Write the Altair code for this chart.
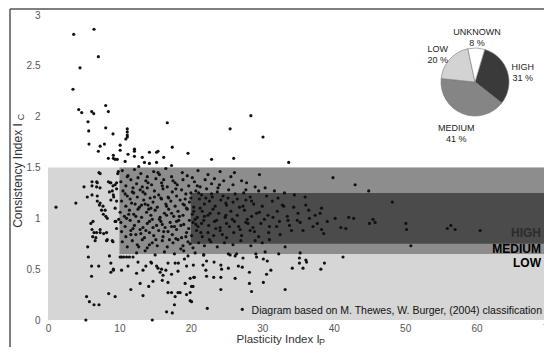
import math
import altair as alt
import pandas as pd

# ---------------- data ----------------
# classification zones (M. Thewes, W. Burger 2004)
zone_names = ["LOW", "MEDIUM", "HIGH"]
zone_ip_from = [0, 10, 20]
zone_ip_to = [70, 70, 70]
zone_ic_from = [0, 0.65, 0.75]
zone_ic_to = [1.5, 1.5, 1.25]
zone_colors = ["#d6d6d6", "#8d8d8d", "#4b4b4b"]

# zone labels (right side)
zone_label_text = ["HIGH", "MEDIUM", "LOW"]
zone_label_ic = [0.86, 0.70, 0.56]

# inset pie: share of samples per clogging class
pie_cats = ["HIGH", "MEDIUM", "LOW", "UNKNOWN"]
pie_pct = [31, 41, 20, 8]
pie_colors = ["#3a3a3a", "#858585", "#d3d3d3", "#ffffff"]

# samples (Ip, Ic)
pts_upper = [(3.6,2.81),(6.44,2.86),(7.05,2.59),(4.48,2.48),(3.5,2.27),(4.3,2.07),(4.72,2.04),(6.12,2.05),
    (6.4,2.03),(8.08,2.11),(8.45,2.05),(5.6,1.95),(5.7,1.86),(8.08,1.89),(9.1,1.83),(11.1,1.88),(11.1,1.85),
    (11.1,1.82),(11.1,1.80),(10.9,1.78),(16.7,1.94),(5.74,1.73),(7.3,1.71),(7.9,1.73),(7.05,1.66),(10.1,1.72),
    (10.1,1.67),(12.1,1.68),(12.1,1.66),(17.4,1.70),(19.6,1.64),(8.45,1.59),(9.15,1.62),(9.15,1.59),(9.4,1.58),
    (9.7,1.58),(10.8,1.56),(11.2,1.63),(12.1,1.61),(13.2,1.60),(13.5,1.55),(14.2,1.65),(14.2,1.54),(15.2,1.65),
    (15.4,1.66),(15.2,1.55),(16.2,1.60),(17.3,1.52),(12.7,1.51),(28.4,2.01),(25.5,1.88),(30.1,1.80),(22.9,1.58),
    (26.0,1.59),(33.7,1.55)]

pts_left = [(1.12,1.11),(3.9,1.15),(7.14,1.45),(7.3,1.44),(5.04,1.31),(5.5,1.21),(6.16,1.36),(6.82,1.36),
    (6.16,1.32),(6.16,1.23),(7.28,1.30),(6.9,1.35),(6.8,1.31),(6.9,1.22),(7.2,1.13),(7.5,1.08),(7.75,1.04),
    (8.1,1.02),(8.3,1.0),(6.9,1.17),(7.3,1.15),(7.7,1.12),(8.0,1.08),(6.0,0.95),(6.16,0.89),(6.44,0.86),
    (6.8,0.86),(7.3,0.86),(6.7,0.81),(6.6,0.78),(6.3,0.97),(6.26,0.82),(7.3,0.89),(7.8,0.85),(8.3,0.79),
    (9.1,0.77),(5.56,0.72),(5.65,0.62),(6.1,0.53),(7.1,0.53),(6.1,0.43),(5.4,0.23),(5.8,0.18),(6.44,0.15),
    (7.14,0.15),(5.3,0.0),(8.2,0.86),(8.2,0.78),(8.8,0.56),(9.15,0.49),(8.5,0.26),(9.4,0.23),(8.7,1.35),
    (9.4,1.33),(9.0,1.27),(9.6,1.29),(9.2,1.21),(8.8,1.18),(8.45,1.36),(8.8,1.35),(9.6,1.35),(9.1,1.32),
    (8.6,1.26),(9.15,1.23),(9.6,1.17),(9.4,1.10),(9.4,0.97),(9.9,0.99),(9.5,0.97),(9.6,0.90),(9.0,0.78),
    (9.85,1.46),(9.76,1.44),(8.8,0.47),(9.15,0.50),(8.6,0.63)]

pts_low = [(11.2,0.53),(10.3,0.49),(12.4,0.46),(13.3,0.49),(11.6,0.30),(12.9,0.36),(13.3,0.24),(14.1,0.33),
    (14.7,0.38),(14.6,0.0),(15.2,0.53),(15.9,0.50),(16.1,0.44),(16.6,0.08),(17.4,0.07),(16.8,0.27),(17.8,0.23),
    (18.5,0.27),(17.7,0.15),(19.2,0.36),(19.4,0.25),(20.3,0.33),(20.5,0.42),(18.25,0.56),(19.4,0.53),(19.9,0.19),
    (12.6,0.57),(13.7,0.53),(14.4,0.57),(14.5,0.56),(15.4,0.51),(16.8,0.56),(15.7,0.47),(16.5,0.49),(16.0,0.39),
    (16.8,0.37),(17.3,0.45),(18.2,0.48),(17.8,0.56),(19.1,0.60),(19.6,0.63),(19.9,0.41),(17.3,0.27),(18.2,0.27),
    (19.9,0.27),(20.1,0.18),(20.35,0.54),(20.4,0.42),(20.1,0.33),(22.3,0.115),(27.2,0.105),(24.2,0.30),
    (21.8,0.64),(21.7,0.54),(22.2,0.58),(22.1,0.49),(22.2,0.43),(23.25,0.57),(23.2,0.42),(24.2,0.54),
    (24.3,0.50),(24.2,0.42),(25.25,0.51),(26.2,0.41),(26.65,0.53),(27.2,0.52),(27.3,0.61),(28.2,0.47),
    (28.2,0.36),(28.5,0.28),(30.15,0.37),(30.6,0.45),(31.2,0.49),(30.15,0.60),(30.7,0.58),(33.2,0.30),
    (34.2,0.51),(35.2,0.61),(35.2,0.56),(35.7,0.51),(36.1,0.59),(36.2,0.57),(38.2,0.50),(38.7,0.56)]

pts_dense = [
    (10.4,1.47),(11.2,1.42),(12.1,1.48),(13.0,1.44),(13.9,1.41),(14.8,1.46),(15.6,1.43),(16.5,1.49),(17.3,1.41),
    (18.8,1.45),(19.5,1.42),(21.0,1.47),(22.4,1.43),(24.1,1.46),(25.6,1.41),(27.1,1.37),(29.6,1.43),(39.9,1.40),
    (12.6,1.40),(20.2,1.40),
    (10.2,1.36),(10.9,1.32),(11.6,1.38),(12.4,1.34),(13.2,1.31),(13.7,1.37),(14.5,1.33),(15.1,1.39),(15.9,1.35),
    (16.7,1.31),(17.5,1.37),(18.1,1.33),(18.9,1.38),(19.7,1.32),(20.5,1.36),(21.3,1.31),(22.0,1.38),(22.9,1.34),
    (23.8,1.30),(24.6,1.37),(25.9,1.33),(27.8,1.35),(29.0,1.31),(31.7,1.27),(33.1,1.25),(43.0,1.33),(44.9,1.27),
    (11.9,1.30),(14.0,1.35),(16.2,1.38),
    (10.5,1.27),(11.1,1.22),(11.8,1.26),(12.5,1.21),(12.9,1.28),(13.6,1.24),(14.3,1.20),(14.9,1.27),(15.5,1.23),
    (16.1,1.29),(16.8,1.21),(17.4,1.26),(18.0,1.22),(18.7,1.28),(19.3,1.24),(20.0,1.20),(20.7,1.27),(21.5,1.23),
    (22.2,1.29),(23.0,1.21),(23.7,1.26),(24.5,1.22),(25.3,1.28),(26.2,1.24),(27.4,1.25),(28.3,1.21),(29.5,1.27),
    (30.6,1.22),(32.2,1.20),(34.5,1.23),(36.0,1.21),(10.8,1.24),(13.3,1.26),(15.8,1.20),(17.9,1.29),(21.1,1.25),
    (10.3,1.17),(10.9,1.12),(11.5,1.19),(12.2,1.14),(12.8,1.11),(13.4,1.18),(14.0,1.13),(14.7,1.16),(15.3,1.11),
    (15.9,1.19),(16.5,1.14),(17.2,1.17),(17.8,1.12),(18.5,1.18),(19.1,1.13),(19.8,1.16),(20.4,1.11),(21.2,1.19),
    (21.9,1.14),(22.6,1.17),(23.4,1.12),(24.2,1.18),(25.0,1.13),(25.9,1.16),(26.8,1.11),(27.7,1.18),(28.8,1.14),
    (30.0,1.12),(31.4,1.17),(32.8,1.13),(34.4,1.11),(36.5,1.08),(38.3,1.10),(48.2,1.16),(11.7,1.15),(14.4,1.10),
    (16.9,1.20),(19.4,1.10),
    (10.1,1.06),(10.7,1.02),(11.4,1.08),(12.0,1.04),(12.6,1.09),(13.1,1.01),(13.8,1.06),(14.4,1.03),(15.0,1.08),
    (15.7,1.01),(16.3,1.05),(16.9,1.09),(17.6,1.02),(18.2,1.07),(18.9,1.03),(19.5,1.09),(20.2,1.04),(20.9,1.01),
    (21.6,1.07),(22.4,1.03),(23.1,1.09),(23.9,1.05),(24.8,1.01),(25.6,1.07),(26.5,1.03),(27.5,1.08),(28.5,1.02),
    (29.6,1.06),(30.8,1.03),(32.1,1.07),(33.5,1.02),(35.0,1.05),(36.6,1.00),(38.1,1.05),(40.2,1.00),(42.1,1.01),
    (42.8,1.00),(11.0,1.00),(14.1,1.09),(17.3,1.05),(21.3,1.10),
    (10.2,0.96),(10.8,0.92),(11.5,0.98),(12.1,0.93),(12.7,0.97),(13.3,0.91),(13.9,0.95),(14.6,0.99),(15.2,0.93),
    (15.8,0.97),(16.4,0.91),(17.1,0.96),(17.7,0.92),(18.3,0.98),(19.0,0.94),(19.7,0.90),(20.3,0.96),(21.0,0.92),
    (21.8,0.98),(22.5,0.93),(23.3,0.97),(24.1,0.91),(25.0,0.95),(25.8,0.99),(26.7,0.92),(27.7,0.96),(28.7,0.91),
    (29.8,0.95),(31.0,0.92),(32.4,0.97),(33.8,0.93),(35.3,0.96),(37.1,0.92),(37.7,0.95),(41.0,0.91),(41.7,0.90),
    (45.0,0.95),(45.5,0.99),(45.8,0.96),(50.1,0.95),(56.4,0.93),(11.9,0.90),(16.0,0.94),(20.6,0.99),
    (10.3,0.87),(10.9,0.82),(11.6,0.88),(12.3,0.84),(12.9,0.89),(13.5,0.81),(14.2,0.86),(14.8,0.83),(15.5,0.88),
    (16.1,0.82),(16.8,0.87),(17.4,0.84),(18.0,0.89),(18.7,0.81),(19.4,0.86),(20.1,0.83),(20.8,0.88),(21.6,0.82),
    (22.4,0.86),(23.2,0.83),(24.1,0.88),(25.0,0.81),(26.0,0.86),(27.1,0.83),(28.3,0.88),(29.5,0.82),(30.9,0.86),
    (32.5,0.84),(34.1,0.88),(38.3,0.89),(38.6,0.85),(50.2,0.89),(55.9,0.90),(57.0,0.89),(60.5,0.88),(13.0,0.85),
    (17.9,0.80),
    (10.4,0.77),(11.1,0.72),(11.8,0.78),(12.5,0.74),(13.2,0.79),(13.9,0.71),(14.6,0.76),(15.3,0.73),(16.0,0.78),
    (16.7,0.72),(17.5,0.76),(18.2,0.79),(18.9,0.73),(19.6,0.77),(20.3,0.71),(21.1,0.76),(21.9,0.73),(22.8,0.77),
    (23.7,0.72),(24.7,0.76),(25.9,0.74),(27.0,0.78),(28.4,0.73),(30.0,0.76),(33.2,0.72),(50.8,0.73),(14.2,0.74),
    (19.9,0.75),
    (10.1,0.62),(10.3,0.62),(10.6,0.62),(11.0,0.62),(11.4,0.62),(11.9,0.62),(12.4,0.66),(13.6,0.68),(15.0,0.64),
    (16.3,0.67),(17.7,0.65),(19.0,0.68),(20.6,0.66),(21.8,0.64),(25.25,0.65),(25.5,0.64),(26.2,0.63),(26.4,0.65),
    (29.1,0.65),(29.2,0.62),(30.4,0.67),(32.3,0.65),(35.3,0.66),(41.3,0.62)]

pts_core = [(12.3,1.02),(13.7,0.88),(14.9,1.21),(15.6,0.99),(16.6,1.12),(17.0,0.79),(18.4,1.02),(18.6,0.93),
    (19.2,1.19),(20.7,0.94),(21.4,0.86),(22.7,1.05),(23.6,0.98),(24.4,0.84),(24.9,1.15),(26.1,0.97),(27.3,1.12),
    (28.0,0.95),(29.2,1.05),(30.3,0.99),(11.3,1.04),(12.0,1.25),(13.6,1.14),(14.2,0.97),(15.1,0.79),(16.2,0.87),
    (17.8,1.35),(18.9,1.14),(19.8,0.98),(20.9,1.32),(22.1,1.20),(23.5,0.90),(24.0,1.33),(25.4,0.92),(26.5,1.19),
    (27.9,0.99),(29.0,0.78),(31.5,1.01),(33.0,1.12),(34.9,0.98),(11.6,0.84),(12.7,0.72),(13.9,1.30),(15.4,1.45),
    (16.6,1.03),(17.3,0.92),(18.6,0.70),(20.0,1.25),(21.5,0.95),(22.9,1.24),(23.3,1.39),(24.9,1.03),(26.1,1.45),
    (27.7,1.28),(28.9,0.87),(30.4,1.30),(32.0,0.92),(36.1,1.13),(37.4,1.03),(39.1,0.97),(11.1,1.41),(13.1,1.13),
    (14.7,0.91),(16.0,1.32),(18.0,0.97),(19.3,0.82),(20.4,1.07),(21.9,1.02),(22.6,0.79),(25.2,1.20),(26.9,0.89),
    (28.5,1.17),(31.0,0.79),(33.6,0.98),(35.7,0.88)]

# ---------------- frames ----------------
zones = pd.DataFrame({"zone": zone_names, "ip0": zone_ip_from, "ip1": zone_ip_to,
                      "ic0": zone_ic_from, "ic1": zone_ic_to})
all_pts = pts_upper + pts_left + pts_low + pts_dense + pts_core
samples = pd.DataFrame(all_pts, columns=["ip", "ic"])
zlabels = pd.DataFrame({"t": zone_label_text, "ic": zone_label_ic, "ip": [70] * len(zone_label_text)})
pie = pd.DataFrame({"cat": pie_cats, "pct": pie_pct, "ord": list(range(len(pie_cats)))})
pie["label"] = pie["cat"] + "\n" + pie["pct"].astype(str) + " %"

FONT = "Liberation Sans"
xscale = alt.Scale(domain=[0, 70], nice=False, zero=False)
yscale = alt.Scale(domain=[0, 3], nice=False)

x_axis = alt.Axis(title="Plasticity Index I", values=[0, 10, 20, 30, 40, 50, 60, 70], grid=False,
                  domain=False, ticks=False, labelFontSize=10, labelColor="#555", labelPadding=3,
                  labelFlush=False, titleFontSize=11.5, titleFontWeight="normal", titleColor="#333",
                  titleX=188, titleY=22, titleAnchor="start", titleAlign="left", titleBaseline="alphabetic")
y_axis = alt.Axis(title="Consistency Index I", values=[0, 0.5, 1, 1.5, 2, 2.5, 3], format="~g", grid=False,
                  domain=False, ticks=False, labelFontSize=10, labelColor="#555", labelPadding=8,
                  labelFlush=False, titleFontSize=12, titleFontWeight="normal", titleColor="#333",
                  titleX=-27, titleY=160, titleBaseline="alphabetic")

rects = alt.Chart(zones).mark_rect().encode(
    x=alt.X("ip0:Q", scale=xscale, axis=x_axis),
    x2="ip1:Q",
    y=alt.Y("ic0:Q", scale=yscale, axis=y_axis),
    y2="ic1:Q",
    color=alt.Color("zone:N", scale=alt.Scale(domain=zone_names, range=zone_colors), legend=None),
)

points = alt.Chart(samples).mark_circle(size=10, color="#111", opacity=1).encode(
    x=alt.X("ip:Q", scale=xscale), y=alt.Y("ic:Q", scale=yscale))

zone_text = alt.Chart(zlabels).mark_text(align="right", baseline="middle", fontSize=12, fontWeight="bold",
                                         font=FONT, dx=-7).encode(
    x=alt.X("ip:Q", scale=xscale), y=alt.Y("ic:Q", scale=yscale), text="t:N",
    color=alt.condition("datum.t == 'HIGH'", alt.value("#2c2c2c"), alt.value("#000")))

credit = alt.Chart(pd.DataFrame({"t": ["Diagram based on M. Thewes, W. Burger, (2004) classification"]})).mark_text(
    align="right", baseline="middle", fontSize=10.5, font=FONT, color="#111").encode(
    x=alt.value(494), y=alt.value(296), text="t:N")

start = 0.29
theta_scale = alt.Scale(range=[start, start + 2 * math.pi])
pie_arcs = alt.Chart(pie).mark_arc(outerRadius=34, stroke="#777", strokeWidth=0.6).encode(
    theta=alt.Theta("pct:Q", stack=True, scale=theta_scale),
    order=alt.Order("ord:Q"),
    fill=alt.Fill("cat:N", scale=alt.Scale(domain=pie_cats, range=pie_colors), legend=None),
    x=alt.value(427), y=alt.value(67))
pie_text = alt.Chart(pie).mark_text(radius=50, fontSize=9, font=FONT, lineBreak="\n", color="#222").encode(
    theta=alt.Theta("pct:Q", stack=True, scale=theta_scale),
    order=alt.Order("ord:Q"),
    text="label:N",
    x=alt.value(427), y=alt.value(67))

sub_y = alt.Chart(pd.DataFrame({"t": ["C"]})).mark_text(fontSize=9, font=FONT, angle=270, color="#333",
                                                          baseline="alphabetic", align="center").encode(
    x=alt.value(-24), y=alt.value(102), text="t:N")
sub_x = alt.Chart(pd.DataFrame({"t": ["P"]})).mark_text(fontSize=9, font=FONT, color="#333",
                                                          baseline="alphabetic", align="left").encode(
    x=alt.value(271), y=alt.value(330), text="t:N")

frame_top = alt.Chart(pd.DataFrame({"a": [0]})).mark_rule(color="#555", strokeWidth=1.5).encode(
    x=alt.value(-38), x2=alt.value(510), y=alt.value(-6))
frame_left = alt.Chart(pd.DataFrame({"a": [0]})).mark_rule(color="#555", strokeWidth=1.5).encode(
    x=alt.value(-38), y=alt.value(-6), y2=alt.value(333))

chart = alt.layer(rects, points, zone_text, credit, pie_arcs, pie_text, sub_y, sub_x, frame_top, frame_left).resolve_scale(
    color="independent").properties(
    width=500, height=305, autosize=alt.AutoSizeParams(type="none"),
    padding={"left": 40, "top": 7, "right": -4, "bottom": 27},
).configure_view(strokeWidth=0).configure_axis(labelFont=FONT, titleFont=FONT)

chart.save("out.html", embed_options={"renderer": "svg", "actions": False})
